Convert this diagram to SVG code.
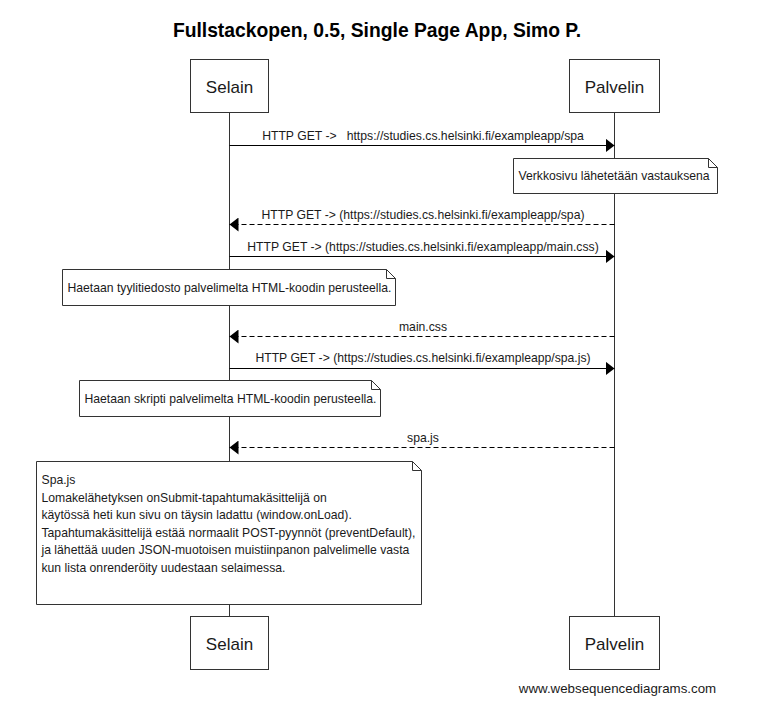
<svg xmlns="http://www.w3.org/2000/svg" width="759" height="712" viewBox="0 0 759 712">
<style>
text{font-family:"Liberation Sans",Arial,sans-serif;fill:#1a1a1a}
.title{font-size:19.3px;font-weight:bold;fill:#000}
.actor{font-size:17px}
.lbl{font-size:12.2px}
.box{fill:#fff;stroke:#333;stroke-width:1}
.life{stroke:#333;stroke-width:1;fill:none}
.msg{stroke:#000;stroke-width:1;fill:none}
.ret{stroke:#000;stroke-width:1;fill:none;stroke-dasharray:5,3}
.note{fill:#fff;stroke:#333;stroke-width:1}
.wm{font-size:13.3px}
</style>
<defs>
<marker id="ah" markerWidth="10" markerHeight="14" refX="9" refY="7" orient="auto" markerUnits="userSpaceOnUse">
<path d="M0,0 L9,7 L0,14 Z" fill="#000"/>
</marker>
</defs>
<rect width="759" height="712" fill="#fff"/>
<text class="title" x="377" y="37" text-anchor="middle">Fullstackopen, 0.5, Single Page App, Simo P.</text>
<g id="lifelines">
<line class="life" x1="229.5" y1="113" x2="229.5" y2="616"/>
<line class="life" x1="614.5" y1="113" x2="614.5" y2="616"/>
</g>
<g id="selain-top"><rect class="box" x="190.5" y="59.5" width="78" height="53"/><text class="actor" x="229.5" y="92.5" text-anchor="middle">Selain</text></g>
<g id="palvelin-top"><rect class="box" x="569.5" y="59.5" width="90" height="53"/><text class="actor" x="614.5" y="92.5" text-anchor="middle">Palvelin</text></g>
<g id="selain-bottom"><rect class="box" x="190.5" y="616.5" width="78" height="53"/><text class="actor" x="229.5" y="649.5" text-anchor="middle">Selain</text></g>
<g id="palvelin-bottom"><rect class="box" x="569.5" y="616.5" width="90" height="53"/><text class="actor" x="614.5" y="649.5" text-anchor="middle">Palvelin</text></g>
<g id="connectors">
<line class="msg" x1="229.5" y1="145.5" x2="614.5" y2="145.5" marker-end="url(#ah)"/>
<text class="lbl" x="423" y="139.5" text-anchor="middle" xml:space="preserve">HTTP GET ->   https://studies.cs.helsinki.fi/exampleapp/spa</text>
<line class="ret" x1="614.5" y1="224.5" x2="229.5" y2="224.5" marker-end="url(#ah)"/>
<text class="lbl" x="423" y="218.5" text-anchor="middle">HTTP GET -&gt; (https://studies.cs.helsinki.fi/exampleapp/spa)</text>
<line class="msg" x1="229.5" y1="256.5" x2="614.5" y2="256.5" marker-end="url(#ah)"/>
<text class="lbl" x="423" y="250.5" text-anchor="middle">HTTP GET -&gt; (https://studies.cs.helsinki.fi/exampleapp/main.css)</text>
<line class="ret" x1="614.5" y1="336.5" x2="229.5" y2="336.5" marker-end="url(#ah)"/>
<text class="lbl" x="423" y="330.5" text-anchor="middle">main.css</text>
<line class="msg" x1="229.5" y1="368.5" x2="614.5" y2="368.5" marker-end="url(#ah)"/>
<text class="lbl" x="423" y="362" text-anchor="middle">HTTP GET -&gt; (https://studies.cs.helsinki.fi/exampleapp/spa.js)</text>
<line class="ret" x1="614.5" y1="447.5" x2="229.5" y2="447.5" marker-end="url(#ah)"/>
<text class="lbl" x="423" y="441.5" text-anchor="middle">spa.js</text>
</g>
<g id="note1">
<path class="note" d="M513.5,158.5 H708.5 L717.5,167.5 V193.5 H513.5 Z M708.5,158.5 V167.5 H717.5"/>
<text class="lbl" x="518.5" y="180">Verkkosivu lähetetään vastauksena</text>
</g>
<g id="note2">
<path class="note" d="M62.5,269.5 H386.5 L395.5,278.5 V305.5 H62.5 Z M386.5,269.5 V278.5 H395.5"/>
<text class="lbl" x="67.5" y="291.5">Haetaan tyylitiedosto palvelimelta HTML-koodin perusteella.</text>
</g>
<g id="note3">
<path class="note" d="M79.5,380.5 H371.5 L380.5,389.5 V416.5 H79.5 Z M371.5,380.5 V389.5 H380.5"/>
<text class="lbl" x="84.5" y="402.5">Haetaan skripti palvelimelta HTML-koodin perusteella.</text>
</g>
<g id="note4">
<path class="note" d="M36.5,461.5 H412.5 L421.5,470.5 V604.5 H36.5 Z M412.5,461.5 V470.5 H421.5"/>
<text class="lbl" x="41.5" y="484">Spa.js</text>
<text class="lbl" x="41.5" y="501.5">Lomakelähetyksen onSubmit-tapahtumakäsittelijä on</text>
<text class="lbl" x="41.5" y="519">käytössä heti kun sivu on täysin ladattu (window.onLoad).</text>
<text class="lbl" x="41.5" y="536.5">Tapahtumakäsittelijä estää normaalit POST-pyynnöt (preventDefault),</text>
<text class="lbl" x="41.5" y="554">ja lähettää uuden JSON-muotoisen muistiinpanon palvelimelle vasta</text>
<text class="lbl" x="41.5" y="571.5">kun lista onrenderöity uudestaan selaimessa.</text>
</g>
<text class="wm" x="617.5" y="693" text-anchor="middle">www.websequencediagrams.com</text>
</svg>
